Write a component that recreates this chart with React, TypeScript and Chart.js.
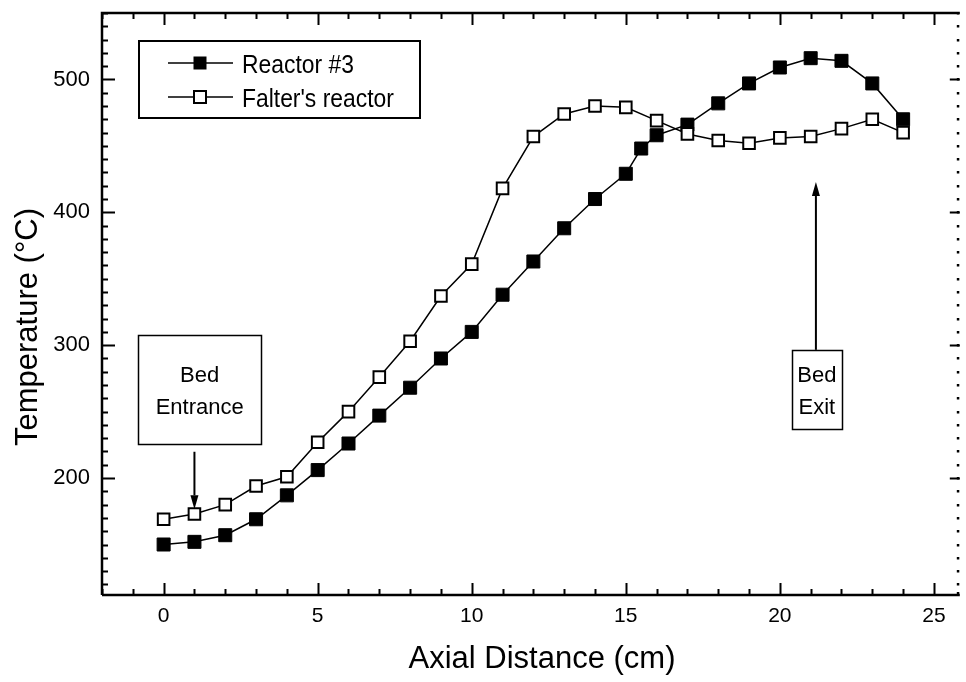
import React, { useEffect, useRef } from 'react';
import { Chart, registerables } from 'chart.js';

Chart.register(...registerables);

// ---- data ----
const reactorX = [0, 1, 2, 3, 4, 5, 6, 7, 8, 9, 10, 11, 12, 13, 14, 15, 15.5, 16, 17, 18, 19, 20, 21, 22, 23, 24];
const reactorT = [150, 152, 157, 169, 187, 206, 226, 247, 268, 290, 310, 338, 363, 388, 410, 429, 448, 458, 466, 482, 497, 509, 516, 514, 497, 470];
const falterX = [0, 1, 2, 3, 4, 5, 6, 7, 8, 9, 10, 11, 12, 13, 14, 15, 16, 17, 18, 19, 20, 21, 22, 23, 24];
const falterT = [169, 173, 180, 194, 201, 227, 250, 276, 303, 337, 361, 418, 457, 474, 480, 479, 469, 459, 454, 452, 456, 457, 463, 470, 460];
const xMajorTicks = [0, 5, 10, 15, 20, 25];
const yMajorTicks = [200, 300, 400, 500];
const seriesLabels = ['Reactor #3', "Falter's reactor"];
const xTitle = 'Axial Distance (cm)';
const yTitle = 'Temperature (\u00B0C)';
const entranceLabel = ['Bed', 'Entrance'];
const exitLabel = ['Bed', 'Exit'];

const FONT = "'Liberation Sans', Arial, Helvetica, sans-serif";

function drawArrow(ctx: CanvasRenderingContext2D, x: number, y0: number, y1: number) {
  const dir = y1 > y0 ? 1 : -1;
  const headLen = 14;
  const halfW = 4;
  ctx.lineWidth = 2;
  ctx.beginPath();
  ctx.moveTo(x, y0);
  ctx.lineTo(x, y1 - dir * headLen);
  ctx.stroke();
  ctx.beginPath();
  ctx.moveTo(x, y1);
  ctx.lineTo(x - halfW, y1 - dir * headLen);
  ctx.lineTo(x + halfW, y1 - dir * headLen);
  ctx.closePath();
  ctx.fill();
}

const framePlugin = {
  id: 'frameAndNotes',
  afterDraw(chart: any) {
    const ctx: CanvasRenderingContext2D = chart.ctx;
    const a = chart.chartArea;
    const xs = chart.scales.x;
    const ys = chart.scales.y;
    const rightEdge = a.right + 2;
    ctx.save();
    ctx.strokeStyle = '#000';
    ctx.fillStyle = '#000';

    // axis lines (left, top, bottom)
    ctx.lineWidth = 2.5;
    ctx.beginPath();
    ctx.moveTo(a.left, a.bottom);
    ctx.lineTo(a.left, a.top);
    ctx.lineTo(rightEdge + 2, a.top);
    ctx.moveTo(a.left, a.bottom);
    ctx.lineTo(rightEdge + 2, a.bottom);
    ctx.stroke();

    // x ticks (inward, top and bottom)
    ctx.lineWidth = 2;
    ctx.beginPath();
    for (let v = Math.ceil(xs.min); v <= xs.max; v++) {
      const px = Math.round(xs.getPixelForValue(v)) + 0.5;
      const len = v % 5 === 0 ? 12 : 6;
      ctx.moveTo(px, a.bottom);
      ctx.lineTo(px, a.bottom - len);
      ctx.moveTo(px, a.top);
      ctx.lineTo(px, a.top + len);
    }
    ctx.stroke();

    // y ticks (left inward; right dotted axis)
    ctx.beginPath();
    for (let v = Math.ceil(ys.min / 10) * 10; v <= ys.max; v += 10) {
      const py = Math.round(ys.getPixelForValue(v)) + 0.5;
      const major = v % 100 === 0;
      const len = major ? 13 : 6;
      ctx.moveTo(a.left, py);
      ctx.lineTo(a.left + len, py);
      if (major) {
        ctx.moveTo(rightEdge + 2, py);
        ctx.lineTo(rightEdge - 8, py);
      }
    }
    ctx.stroke();
    for (let v = Math.ceil(ys.min / 10) * 10; v <= ys.max; v += 10) {
      const py = Math.round(ys.getPixelForValue(v));
      ctx.fillRect(rightEdge - 1, py - 1, 2.5, 2.5);
    }
    ctx.fillRect(rightEdge - 1, a.bottom - 3, 2.5, 2.5);

    // axis titles
    ctx.font = `31px ${FONT}`;
    ctx.textAlign = 'center';
    ctx.textBaseline = 'alphabetic';
    ctx.fillText(xTitle, 542, 668);
    ctx.save();
    ctx.translate(37, 327);
    ctx.rotate(-Math.PI / 2);
    ctx.fillText(yTitle, 0, 0);
    ctx.restore();

    // legend
    const lx = 139, ly = 41, lw = 281, lh = 77;
    ctx.lineWidth = 2;
    ctx.strokeRect(lx, ly, lw, lh);
    const rows = [63, 97];
    chart.data.datasets.forEach((ds: any, i: number) => {
      const cy = rows[i];
      ctx.lineWidth = 1.5;
      ctx.strokeStyle = '#000';
      ctx.beginPath();
      ctx.moveTo(168, cy);
      ctx.lineTo(233, cy);
      ctx.stroke();
      const side = 12;
      ctx.fillStyle = ds.pointBackgroundColor;
      ctx.fillRect(200 - side / 2, cy - side / 2, side, side);
      ctx.lineWidth = ds.pointBorderWidth;
      ctx.strokeRect(200 - side / 2, cy - side / 2, side, side);
      ctx.fillStyle = '#000';
      ctx.save();
      ctx.translate(242, cy + 10);
      ctx.scale(0.88, 1);
      ctx.font = `26px ${FONT}`;
      ctx.textAlign = 'left';
      ctx.textBaseline = 'alphabetic';
      ctx.fillText(ds.label, 0, 0);
      ctx.restore();
    });

    // Bed Entrance annotation
    ctx.strokeStyle = '#000';
    ctx.fillStyle = '#000';
    const enX = xs.getPixelForValue(1.17);
    const enY = ys.getPixelForValue(266.7);
    ctx.lineWidth = 1.5;
    ctx.strokeRect(Math.round(enX - 61.5) + 0.5, Math.round(enY - 54.5) + 0.5, 123, 109);
    ctx.font = `22px ${FONT}`;
    ctx.textAlign = 'center';
    ctx.textBaseline = 'alphabetic';
    ctx.fillText(entranceLabel[0], enX, enY - 7);
    ctx.fillText(entranceLabel[1], enX, enY + 25);
    drawArrow(ctx, xs.getPixelForValue(1), ys.getPixelForValue(219.8), ys.getPixelForValue(176.5));

    // Bed Exit annotation
    const exX = xs.getPixelForValue(21.2);
    const exY = ys.getPixelForValue(266.7);
    ctx.lineWidth = 1.5;
    ctx.strokeRect(Math.round(exX - 25) + 0.5, Math.round(exY - 39.5) + 0.5, 50, 79);
    ctx.fillText(exitLabel[0], exX, exY - 7);
    ctx.fillText(exitLabel[1], exX, exY + 25);
    drawArrow(ctx, xs.getPixelForValue(21.17), ys.getPixelForValue(296.5), ys.getPixelForValue(422.8));

    ctx.restore();
  },
};

export default function App() {
  const ref = useRef<HTMLCanvasElement | null>(null);
  useEffect(() => {
    document.body.style.margin = '0';
    const canvas = ref.current;
    if (!canvas) return;
    Chart.defaults.font.family = FONT;
    Chart.defaults.color = '#000';
    const chart = new Chart(canvas, {
      type: 'line',
      data: {
        datasets: [
          {
            label: seriesLabels[0],
            data: reactorX.map((x, i) => ({ x, y: reactorT[i] })),
            borderColor: '#000',
            borderWidth: 1.5,
            pointStyle: 'rect',
            pointRadius: 9.2,
            pointBackgroundColor: '#000',
            pointBorderColor: '#000',
            pointBorderWidth: 1,
            tension: 0,
            order: 1,
          },
          {
            label: seriesLabels[1],
            data: falterX.map((x, i) => ({ x, y: falterT[i] })),
            borderColor: '#000',
            borderWidth: 1.5,
            pointStyle: 'rect',
            pointRadius: 8.2,
            pointBackgroundColor: '#fff',
            pointBorderColor: '#000',
            pointBorderWidth: 2,
            tension: 0,
            order: 0,
          },
        ],
      },
      options: {
        responsive: false,
        animation: false,
        events: [],
        layout: { padding: { top: 13, right: 2, left: 0, bottom: 0 } },
        plugins: {
          legend: { display: false },
          tooltip: { enabled: false },
        },
        scales: {
          x: {
            type: 'linear',
            min: -2,
            max: 25.71,
            grid: { display: false, drawTicks: false },
            border: { display: false },
            ticks: {
              stepSize: 1,
              includeBounds: false,
              autoSkip: false,
              maxRotation: 0,
              padding: 9,
              color: '#000',
              font: { size: 21 },
              callback: (v: any) => (xMajorTicks.includes(Number(v)) ? String(v) : ''),
            },
            afterFit: (s: any) => {
              s.height = 87;
              s.paddingLeft = 0;
              s.paddingRight = 0;
            },
          },
          y: {
            type: 'linear',
            min: 112,
            max: 550,
            grid: { display: false, drawTicks: false },
            border: { display: false },
            ticks: {
              stepSize: 100,
              includeBounds: false,
              autoSkip: false,
              padding: 12,
              color: '#000',
              font: { size: 22 },
              callback: (v: any) => (yMajorTicks.includes(Number(v)) ? String(v) : ''),
            },
            afterFit: (s: any) => {
              s.width = 102;
              s.paddingTop = 0;
              s.paddingBottom = 0;
            },
          },
        },
      },
      plugins: [framePlugin],
    } as any);
    return () => chart.destroy();
  }, []);
  return (
    <div style={{ width: 966, height: 682, background: '#fff' }}>
      <canvas ref={ref} width={966} height={682} style={{ display: 'block' }} />
    </div>
  );
}
